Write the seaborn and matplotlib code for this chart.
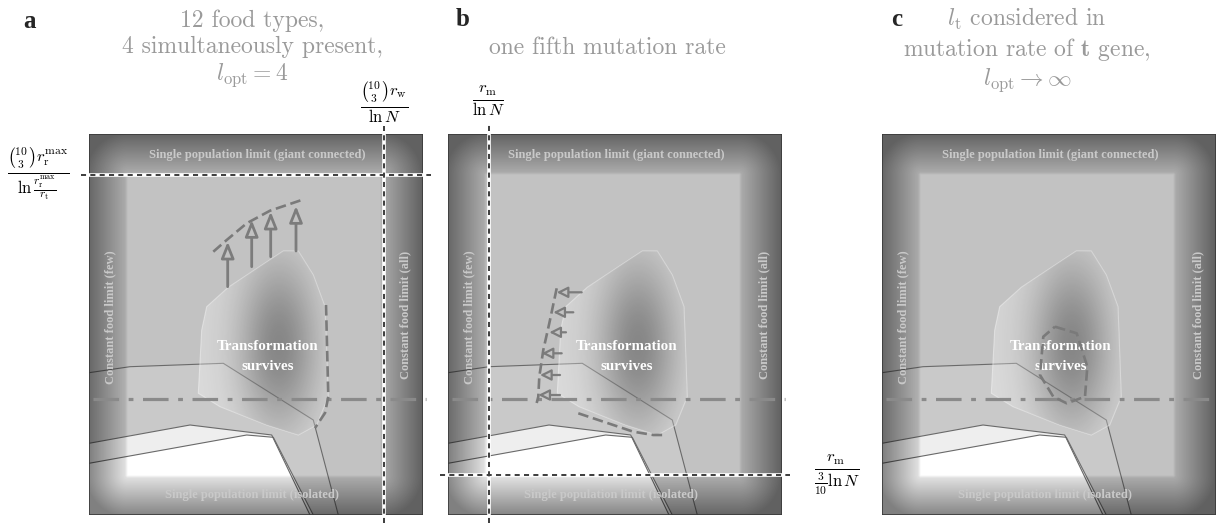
import numpy as np
import matplotlib
matplotlib.use("Agg")
import matplotlib.pyplot as plt
import seaborn as sns
from matplotlib.patches import Polygon, Rectangle

# every shape is given in units of one panel box (334 x 381, origin bottom left)
box_w, box_h = 334, 381

# region where the transformation survives
surv_x = [117.7, 139.3, 194.3, 209.3, 224.3, 236, 239.3, 227.7, 209.3, 177.7, 131, 109.3, 112.7]
surv_y = [208.3, 227.7, 264, 264, 240, 208.3, 118.3, 90, 80, 90, 108.3, 121.7, 185]

# thin boundary lines of the bands
line_a_x = [0, 41, 134.3, 224.3, 249.3]
line_a_y = [142.3, 148.3, 151.7, 95, 0]
line_b_x = [0, 101, 182.7, 221]
line_b_y = [71.7, 90, 80, 0]
line_c_x = [0, 157.7, 184.3, 224.3]
line_c_y = [51.7, 80, 77.7, 0]
white_x = [0, 0, 157.7, 183.6, 221]
white_y = [0, 51.7, 80, 78, 0]

dashdot_y = 116

# panel a: arrows pushing the boundary up
arrows_a_x = [138.7, 162.7, 181.7, 207]
arrows_a_tail = [228.3, 248.3, 258.3, 264]
arrows_a_tip = [273.3, 295, 303.3, 309]
front_a_x = [124.3, 137.7, 157.7, 181, 212.7]
front_a_y = [263.3, 275, 291.7, 304.3, 315]
edge_a_x = [237, 239.3, 236, 226]
edge_a_y = [210, 118.3, 102, 87]
cut_a_h = 340   # horizontal threshold
cut_a_v = 295   # vertical threshold

# panel b: arrows pushing the boundary left
arrows_b_y = [222.7, 202.7, 182.7, 161.7, 140, 120]
arrows_b_tail = [133.7, 125.3, 118, 113.7, 112, 112]
arrows_b_tip = [108.7, 105.3, 101.3, 93.7, 92, 90.3]
front_b_x = [108.7, 101.3, 95.3, 91.3, 90.3, 88.7]
front_b_y = [226.7, 191.7, 165, 138.3, 118.3, 112]
edge_b_x = [130.3, 165.3, 185.3, 205.3, 218.7]
edge_b_y = [101.7, 90, 83.3, 80, 80]
cut_b_v = 41
cut_b_h = 40

# panel c: shrunken region
loop_c_x = [173, 194.7, 205.3, 203, 184.7, 171.3, 158, 161.3, 173]
loop_c_y = [188.3, 181.7, 148.3, 118.3, 111.7, 118.3, 140, 178.3, 188.3]

panel_left = [89, 448, 882]

sns.set_theme(style="white")
plt.rcParams["mathtext.fontset"] = "cm"
plt.rcParams["axes.formatter.use_mathtext"] = True

W, H = 1216, 523
fig = plt.figure(figsize=(W / 100, H / 100), dpi=100)


def fx(x):
    return x / W


def fy(y):
    return 1 - y / H


def trace(ax, xs, ys, **kw):
    sns.lineplot(x=xs, y=ys, sort=False, estimator=None, ax=ax, legend=False, **kw)


# vignette and dark blob images
X, Y = np.meshgrid(np.arange(box_w) + 0.5, np.arange(box_h) + 0.5)
dx = np.maximum(np.maximum(39 - X, X - 291), 0)
dy = np.maximum(np.maximum(40 - Y, Y - 340), 0)
d = np.hypot(dx, dy)
vig = np.zeros((box_h, box_w, 4))
vig[..., 3] = 0.1 * np.clip(d / 3, 0, 1) + 0.4 * np.clip(d / 42, 0, 1)
blob = np.zeros((box_h, box_w, 4))
blob[..., 3] = 0.37 * np.exp(-(((X - 190) / 28) ** 2 + ((Y - 170) / 62) ** 2) / 2)

BG = "#c2c2c2"
txt_light = "#c9c9c9"
dash_col = "#7a7a7a"
cut_style = dict(color="#3c3c3c", lw=1.4, linestyle=(0, (2.6, 2.2)), zorder=8.1, clip_on=False)

for i, left in enumerate(panel_left):
    ax = fig.add_axes([fx(left), fy(515), box_w / W, box_h / H])
    ax.set_xlim(0, box_w)
    ax.set_ylim(0, box_h)
    ax.axis("off")

    ax.add_patch(Rectangle((0, 0), box_w, box_h, fc=BG, ec="none", zorder=0))
    ax.fill(line_a_x + line_b_x[::-1], line_a_y + line_b_y[::-1], color="#c9c9c9", lw=0, zorder=1)
    ax.fill(line_b_x + line_c_x[::-1], line_b_y + line_c_y[::-1], color="#eeeeee", lw=0, zorder=1.1)
    ax.fill(white_x, white_y, color="white", lw=0, zorder=1.2)
    for lx, ly in [(line_a_x, line_a_y), (line_b_x, line_b_y), (line_c_x, line_c_y)]:
        trace(ax, lx, ly, color="#6a6a6a", lw=0.8, zorder=2)

    surv = Polygon(np.column_stack([surv_x, surv_y]), closed=True,
                   fc=(1, 1, 1, 0.32), ec=(1, 1, 1, 0.4), lw=0.8, zorder=3)
    ax.add_patch(surv)
    im = ax.imshow(blob, extent=[0, box_w, 0, box_h], origin="lower", zorder=3.2)
    im.set_clip_path(surv)

    ax.imshow(vig, extent=[0, box_w, 0, box_h], origin="lower", zorder=4)
    ax.set_aspect("auto")
    ax.set_xlim(0, box_w)
    ax.set_ylim(0, box_h)
    ax.add_patch(Rectangle((0, 0), box_w, box_h, fill=False, ec="#3a3a3a", lw=1.2, zorder=4.5))

    # edge labels, faint grey on the dark rim
    tk = dict(family="Liberation Serif", weight="bold", color=txt_light, fontsize=9,
              ha="center", va="center", zorder=4.8)
    ax.text(168.5, 360, "Single population limit (giant connected)", **tk)
    ax.text(163, 20, "Single population limit (isolated)", **tk)
    ax.text(21, 198, "Constant food limit (few)", rotation=90, **tk)
    ax.text(316, 200, "Constant food limit (all)", rotation=90, **tk)

    trace(ax, [4, box_w + 3], [dashdot_y, dashdot_y], color="#8a8a8a", lw=2.3,
          linestyle=(0, (8, 3, 1.5, 3)), zorder=5, clip_on=False)

    tk.update(color="white", fontsize=10.8, zorder=6)
    ax.text(179, 168, "Transformation", **tk)
    ax.text(179, 149, "survives", **tk)

    ds = dict(color=dash_col, lw=1.9, linestyle=(0, (4, 1.8)), zorder=7)
    if i == 0:
        for x0, t0, t1 in zip(arrows_a_x, arrows_a_tail, arrows_a_tip):
            ax.annotate("", xy=(x0, t1), xytext=(x0, t0), zorder=6.5,
                        arrowprops=dict(arrowstyle="-|>,head_length=0.7,head_width=0.28",
                                        mutation_scale=14, lw=2, ec="#7c7c7c", fc=BG,
                                        shrinkA=0, shrinkB=0))
        trace(ax, front_a_x, front_a_y, **ds)
        trace(ax, edge_a_x, edge_a_y, **ds)
        trace(ax, [0, box_w], [cut_a_h, cut_a_h], color="white", lw=2.6, zorder=8)
        trace(ax, [-8, box_w + 8], [cut_a_h, cut_a_h], **cut_style)
        trace(ax, [cut_a_v, cut_a_v], [0, box_h], color="white", lw=2.6, zorder=8)
        trace(ax, [cut_a_v, cut_a_v], [-8, box_h + 8], **cut_style)
    elif i == 1:
        for y0, t0, t1 in zip(arrows_b_y, arrows_b_tail, arrows_b_tip):
            ax.annotate("", xy=(t1, y0), xytext=(t0, y0), zorder=6.5,
                        arrowprops=dict(arrowstyle="-|>,head_length=0.6,head_width=0.3",
                                        mutation_scale=11, lw=1.6, ec="#7c7c7c", fc=BG,
                                        shrinkA=0, shrinkB=0))
        trace(ax, front_b_x, front_b_y, **ds)
        trace(ax, edge_b_x, edge_b_y, **ds)
        trace(ax, [0, box_w], [cut_b_h, cut_b_h], color="white", lw=2.6, zorder=8)
        trace(ax, [-8, box_w + 8], [cut_b_h, cut_b_h], **cut_style)
        trace(ax, [cut_b_v, cut_b_v], [0, box_h], color="white", lw=2.6, zorder=8)
        trace(ax, [cut_b_v, cut_b_v], [-8, box_h + 9], **cut_style)
    else:
        trace(ax, loop_c_x, loop_c_y, **ds)

# panel letters and titles
title_col = "#9a9a9a"
tt = dict(family="cmr10", color=title_col, fontsize=17, ha="center", va="center")
lt = dict(family="Liberation Serif", weight="bold", fontsize=18, ha="center", va="center")
fig.text(fx(30), fy(21), "a", **lt)
fig.text(fx(463), fy(19), "b", **lt)
fig.text(fx(897), fy(20), "c", **lt)

fig.text(fx(252), fy(21), "12 food types,", **tt)
fig.text(fx(252), fy(47), "4 simultaneously present,", **tt)
fig.text(fx(252), fy(75), r"$l_{\rm opt}=4$", **tt)
fig.text(fx(607), fy(48), "one fifth mutation rate", **tt)
fig.text(fx(1027), fy(19), r"$l_{\rm t}$ considered in", **tt)
fig.text(fx(1027), fy(49), r"mutation rate of $\mathbf{t}$ gene,", **tt)
fig.text(fx(1027), fy(80), r"$l_{\rm opt}\rightarrow\infty$", **tt)

# threshold labels
mk = dict(color="black", fontsize=17, ha="center", va="center")
fig.text(fx(384), fy(102), r"$\frac{\binom{10}{3}r_{\rm w}}{\ln N}$", **mk)
fig.text(fx(38), fy(174), r"$\frac{\binom{10}{3}r_{\rm r}^{\rm max}}{\ln\frac{r_{\rm r}^{\rm max}}{r_{\rm t}}}$", **mk)
fig.text(fx(488), fy(101), r"$\frac{r_{\rm m}}{\ln N}$", **mk)
fig.text(fx(837), fy(474), r"$\frac{r_{\rm m}}{\frac{3}{10}\ln N}$", **mk)

fig.savefig("out.png", dpi=100)
